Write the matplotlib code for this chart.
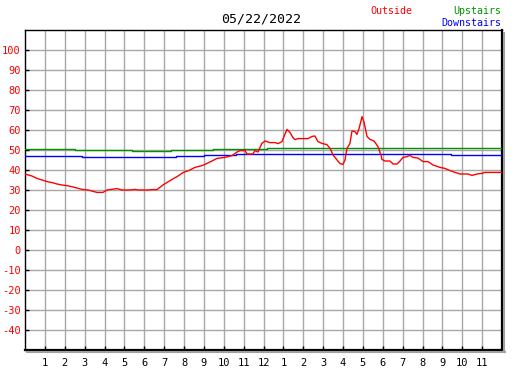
import matplotlib
matplotlib.use("Agg")
import matplotlib.pyplot as plt
from matplotlib.lines import Line2D

# hours since midnight
outside_hours = [0.05, 0.35, 0.6, 0.86, 1.11, 1.36, 1.61, 1.86, 2.11, 2.42, 2.87, 3.17,
                 3.62, 3.92, 4.13, 4.63, 4.88, 5.28, 5.53, 5.69, 6.19, 6.44, 6.64, 6.94,
                 7.30, 7.65, 7.95, 8.30, 8.55, 8.91, 9.16, 9.41, 9.66, 10.06, 10.42, 10.67,
                 10.82, 11.07, 11.17, 11.47, 11.57, 11.72, 11.92, 12.08, 12.33, 12.58, 12.73,
                 12.93, 13.03, 13.18, 13.33, 13.48, 13.58, 13.74, 13.99, 14.24, 14.44, 14.59,
                 14.74, 14.94, 15.19, 15.35, 15.50, 15.70, 15.85, 16.00, 16.10, 16.20, 16.35,
                 16.45, 16.60, 16.70, 16.81, 16.96, 17.06, 17.21, 17.36, 17.56, 17.76, 17.91,
                 17.96, 18.11, 18.36, 18.52, 18.72, 18.87, 19.02, 19.22, 19.37, 19.52, 19.77,
                 20.03, 20.28, 20.53, 20.88, 21.13, 21.38, 21.64, 21.89, 22.29, 22.49, 22.74,
                 22.99, 23.14, 24.0]
outside_temp = [37.8, 37.0, 35.8, 35.0, 34.2, 33.7, 33.0, 32.5, 32.2, 31.5, 30.3, 30.0,
                28.8, 28.8, 30.0, 30.7, 30.0, 30.0, 30.3, 30.0, 30.0, 30.2, 30.2, 32.5,
                34.7, 36.7, 38.7, 40.0, 41.3, 42.2, 43.3, 44.5, 45.8, 46.3, 47.2, 49.0,
                49.7, 49.7, 48.0, 48.0, 49.7, 49.0, 53.3, 54.5, 53.7, 53.7, 53.2,
                54.2, 56.7, 60.3, 58.8, 56.2, 55.2, 55.7, 55.7, 55.7, 56.8, 57.0,
                54.2, 53.3, 52.7, 50.8, 47.5, 45.0, 43.2, 42.8, 45.0, 50.8, 53.3,
                59.5, 59.2, 57.8, 60.8, 66.7, 63.8, 56.7, 55.3, 54.5, 51.7, 47.5,
                45.3, 44.5, 44.5, 43.0, 43.0, 44.5, 46.3, 46.7, 47.3, 46.3, 46.0,
                44.2, 44.2, 42.5, 41.3, 40.8, 39.7, 38.8, 38.0, 38.0, 37.3, 38.0,
                38.3, 38.8, 38.8]

upstairs_hours = [0, 2.52, 5.38, 7.35, 9.46, 12.18, 22.49, 24]
upstairs_temp = [50.4, 50.0, 49.5, 50.0, 50.5, 51.2, 50.8, 50.8]

downstairs_hours = [0, 2.87, 7.60, 9.0, 10.62, 21.43, 24]
downstairs_temp = [47.0, 46.4, 47.0, 47.5, 47.8, 47.3, 47.3]

hour_ticks = list(range(1, 24))
hour_labels = [str(h) for h in range(1, 13)] + [str(h) for h in range(1, 12)]
temp_ticks = list(range(-40, 101, 10))

W, H = 527, 370
fig = plt.figure(figsize=(W / 100, H / 100), dpi=100)
ax = fig.add_axes([25 / W, 20 / H, 477 / W, 320 / H])

mono = "DejaVu Sans Mono"

ax.plot(upstairs_hours, upstairs_temp, color="#009000", lw=1.0, drawstyle="steps-post", zorder=3)
ax.plot(downstairs_hours, downstairs_temp, color="#0000ff", lw=1.0, drawstyle="steps-post", zorder=3)
ax.plot(outside_hours, outside_temp, color="#ff0000", lw=1.0, zorder=4)

ax.set_xlim(0, 24)
ax.set_ylim(-50, 110)
ax.set_xticks(hour_ticks)
ax.set_xticklabels(hour_labels, fontfamily=mono, fontsize=7.5)
ax.set_yticks(temp_ticks)
ax.set_yticklabels([str(t) for t in temp_ticks], fontfamily=mono, fontsize=7.5, color="#ff0000")
ax.tick_params(axis="both", direction="in", length=3, width=1, color="black")
ax.tick_params(axis="x", pad=6)
ax.tick_params(axis="y", pad=3)
ax.grid(True, color="#a8a8a8", lw=1)
ax.set_axisbelow(True)

for side in ["top", "left"]:
    ax.spines[side].set_linewidth(1)
for side in ["bottom", "right"]:
    ax.spines[side].set_linewidth(1.6)

# drop shadow on the frame
fig.add_artist(Line2D([27 / W, 505 / W], [(H - 352) / H, (H - 352) / H],
                      transform=fig.transFigure, color="#a0a0a0", lw=1.5))
fig.add_artist(Line2D([504 / W, 504 / W], [(H - 33) / H, (H - 352) / H],
                      transform=fig.transFigure, color="#a0a0a0", lw=1.5))

fig.text(261 / W, 1 - 19 / H, "05/22/2022", ha="center", va="center",
         fontfamily=mono, fontsize=9.5, color="black")
fig.text(370 / W, 1 - 11 / H, "Outside", ha="left", va="center",
         fontfamily=mono, fontsize=7.2, color="#ff0000")
fig.text(501 / W, 1 - 11 / H, "Upstairs", ha="right", va="center",
         fontfamily=mono, fontsize=7.2, color="#009000")
fig.text(501 / W, 1 - 23 / H, "Downstairs", ha="right", va="center",
         fontfamily=mono, fontsize=7.2, color="#0000ff")

fig.savefig("out.png", dpi=100)
